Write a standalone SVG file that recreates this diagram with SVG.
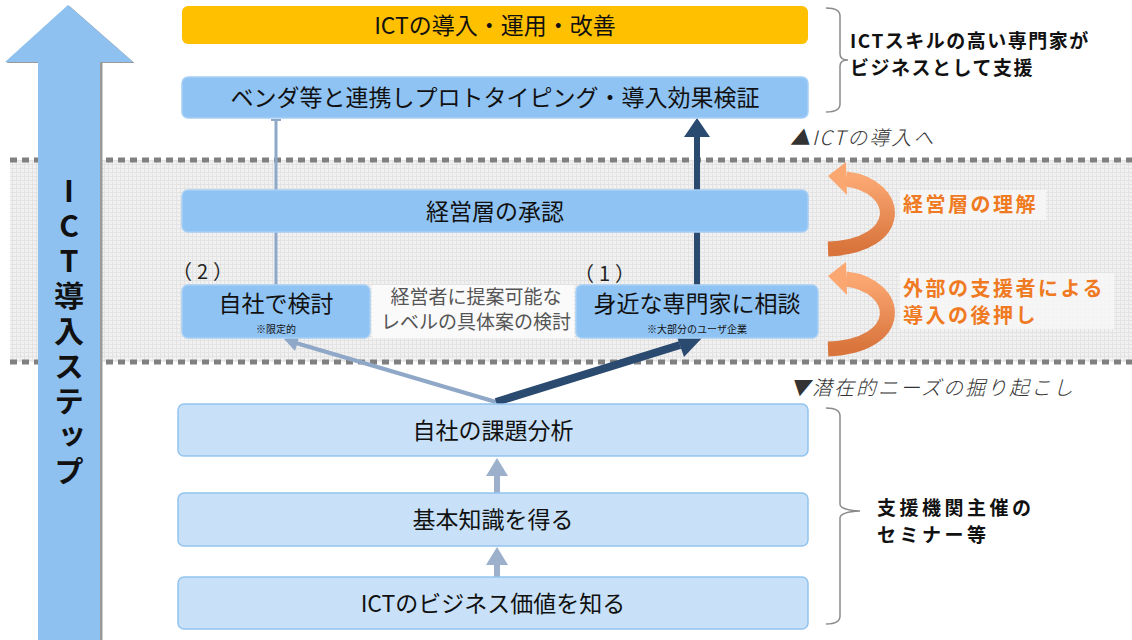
<svg xmlns="http://www.w3.org/2000/svg" width="1132" height="640" viewBox="0 0 1132 640">
<defs>
<style>
.jp{font-family:"Noto Sans CJK JP","Noto Sans",sans-serif;}
.box{fill:#8FC3F3;stroke:#A8D0F5;stroke-width:1.5;}
.lbox{fill:#C8E1F8;stroke:#93C4EE;stroke-width:1.5;}
.bt{font-size:23px;fill:#111;text-anchor:middle;}
.note{font-size:10px;fill:#111;text-anchor:middle;}
.side{font-size:19px;font-weight:bold;fill:#111;letter-spacing:1.5px;}
.side2{font-size:19px;font-weight:bold;fill:#111;letter-spacing:3.5px;}
.org{font-size:20px;font-weight:bold;fill:#F07A22;letter-spacing:2.5px;}
.it{font-size:20px;font-style:italic;font-weight:300;fill:#333;letter-spacing:2px;}
.vt{font-size:30px;font-weight:bold;fill:#111;writing-mode:vertical-rl;text-orientation:upright;letter-spacing:5px;}
.par{font-size:20px;fill:#222;letter-spacing:5px;}
.dash{stroke:#808080;stroke-width:5;stroke-dasharray:7 5;}
.brace{fill:none;stroke:#8a8a8a;stroke-width:1.5;}
</style>
<pattern id="grid" width="4" height="4" patternUnits="userSpaceOnUse">
<rect width="4" height="4" fill="#F1F1F1"/>
<path d="M0,0.5H4M0.5,0V4" stroke="#E3E3E3" stroke-width="1"/>
</pattern>
<linearGradient id="og" x1="0" y1="0" x2="0" y2="1">
<stop offset="0" stop-color="#FBA772"/>
<stop offset="1" stop-color="#D8743C"/>
</linearGradient>
</defs>
<rect width="1132" height="640" fill="#fff"/>
<!-- band -->
<rect x="10" y="160" width="1122" height="202" fill="url(#grid)"/>
<line class="dash" x1="10" y1="160" x2="1132" y2="160"/>
<line class="dash" x1="10" y1="362" x2="1132" y2="362"/>
<!-- big arrow -->
<g id="step-arrow">
<polygon points="68,5 133,62 101,62 101,640 38,640 38,62 5,62" fill="#9A9A9A" transform="translate(1.5,1)"/>
<polygon points="68,5 133,62 100,62 100,640 38,640 38,62 5,62" fill="#8EC1F0"/>
<text class="jp vt" x="69" y="176">ICT導入ステップ</text>
</g>
<!-- connectors -->
<g id="connectors">
<line x1="276" y1="119" x2="276" y2="286" stroke="#8FA8C8" stroke-width="3"/>
<line x1="271" y1="120" x2="281" y2="120" stroke="#8FA8C8" stroke-width="2"/>
<line x1="697" y1="285" x2="697" y2="136" stroke="#2B4A6F" stroke-width="6"/>
<polygon points="697,118 710,137 684,137" fill="#2B4A6F"/>
<line x1="496" y1="402" x2="296" y2="343" stroke="#8FA8C8" stroke-width="4"/>
<polygon points="284,339 300,334 295,351" fill="#8FA8C8"/>
<line x1="496" y1="402" x2="680" y2="345" stroke="#2B4A6F" stroke-width="8"/>
<polygon points="702,338 676,334 684,357" fill="#2B4A6F"/>
<line x1="497" y1="493" x2="497" y2="474" stroke="#9CB0CC" stroke-width="6"/>
<polygon points="497,458 508,476 486,476" fill="#9CB0CC"/>
<line x1="497" y1="577" x2="497" y2="563" stroke="#9CB0CC" stroke-width="6"/>
<polygon points="497,547 508,565 486,565" fill="#9CB0CC"/>
</g>
<!-- nodes -->
<g id="n-operate">
<rect x="182" y="6" width="626" height="38" rx="6" fill="#FFC000"/>
<text class="jp bt" x="495" y="34" font-size="24">ICTの導入・運用・改善</text>
</g>
<g id="n-proto">
<rect class="box" x="182" y="77" width="626" height="41" rx="6"/>
<text class="jp bt" x="495" y="106">ベンダ等と連携しプロトタイピング・導入効果検証</text>
</g>
<g id="n-approve">
<rect class="box" x="182" y="190" width="626" height="42" rx="6"/>
<text class="jp bt" x="495" y="220" font-size="24">経営層の承認</text>
</g>
<g id="n-self">
<text class="jp par" x="172" y="279">（2）</text>
<rect class="box" x="182" y="285" width="188" height="53" rx="6"/>
<text class="jp bt" x="276" y="312" font-size="24">自社で検討</text>
<text class="jp note" x="276" y="333">※限定的</text>
</g>
<g id="n-mid">
<rect x="372" y="285" width="202" height="53" fill="#FAFAFA"/>
<text class="jp" x="476" y="304" font-size="19" fill="#555" text-anchor="middle">経営者に提案可能な</text>
<text class="jp" x="476" y="329" font-size="19" fill="#555" text-anchor="middle">レベルの具体案の検討</text>
</g>
<g id="n-expert">
<text class="jp par" x="574" y="281">（1）</text>
<rect class="box" x="576" y="285" width="242" height="53" rx="6"/>
<text class="jp bt" x="697" y="312" font-size="24">身近な専門家に相談</text>
<text class="jp note" x="697" y="333">※大部分のユーザ企業</text>
</g>
<g id="n-analyze">
<rect class="lbox" x="178" y="404" width="630" height="52" rx="6"/>
<text class="jp bt" x="493" y="439">自社の課題分析</text>
</g>
<g id="n-know">
<rect class="lbox" x="178" y="493" width="630" height="53" rx="6"/>
<text class="jp bt" x="493" y="528">基本知識を得る</text>
</g>
<g id="n-value">
<rect class="lbox" x="178" y="577" width="630" height="52" rx="6"/>
<text class="jp bt" x="493" y="612">ICTのビジネス価値を知る</text>
</g>
<!-- right side -->
<g id="brace-top">
<path class="brace" d="M826,8 Q840,8 840,16 L840,54 Q840,60 848,60 Q840,60 840,66 L840,104 Q840,112 826,112"/>
<text class="jp side" x="850" y="48">ICTスキルの高い専門家が</text>
<text class="jp side" x="850" y="75">ビジネスとして支援</text>
</g>
<g id="labels-italic">
<text class="jp it" x="790" y="145">▲ICTの導入へ</text>
<text class="jp it" x="790" y="395">▼潜在的ニーズの掘り起こし</text>
</g>
<g id="curl-1">
<path d="M846,179 C902,186 906,246 828,249" fill="none" stroke="url(#og)" stroke-width="15"/>
<polygon points="828,176 846,162 847,195" fill="#FBA772"/>
<rect x="900" y="190" width="146" height="30" fill="#F7F7F7" opacity="0.8"/>
<text class="jp org" x="903" y="212">経営層の理解</text>
</g>
<g id="curl-2">
<path d="M846,279 C902,286 906,346 828,349" fill="none" stroke="url(#og)" stroke-width="15"/>
<polygon points="828,276 846,262 847,295" fill="#FBA772"/>
<rect x="900" y="273" width="214" height="56" fill="#F7F7F7" opacity="0.8"/>
<text class="jp org" x="903" y="296">外部の支援者による</text>
<text class="jp org" x="903" y="323">導入の後押し</text>
</g>
<g id="brace-bottom">
<path class="brace" d="M826,408 Q840,408 840,416 L840,504 Q840,510 860,511 Q840,512 840,518 L840,616 Q840,624 826,624"/>
<text class="jp side2" x="877" y="515">支援機関主催の</text>
<text class="jp side2" x="877" y="542">セミナー等</text>
</g>
</svg>
